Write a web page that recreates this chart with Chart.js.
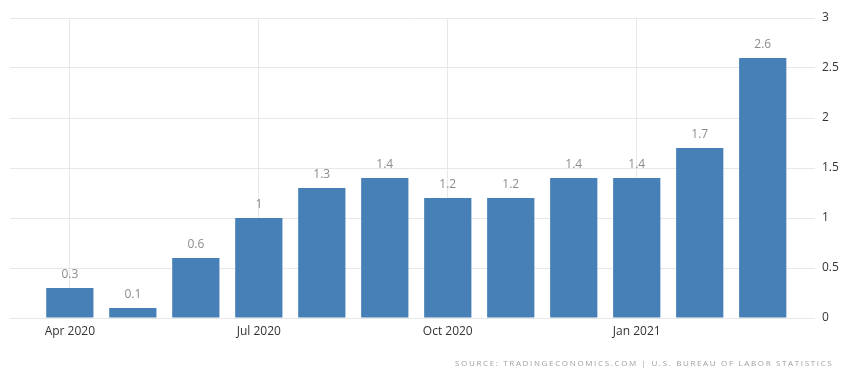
<!DOCTYPE html>
<html>
<head>
<meta charset="utf-8">
<script src="https://cdn.jsdelivr.net/npm/chart.js@4/dist/chart.umd.min.js"></script>
<style>
  html, body { margin: 0; padding: 0; background: #fff; }
  #wrap { position: relative; width: 843px; height: 370px; }
  #source {
    position: absolute; left: 455px; top: 357px;
    font-family: "Open Sans", sans-serif; font-size: 8px; letter-spacing: 1.65px;
    color: #a0a0a0; white-space: nowrap;
  }
</style>
</head>
<body>
<div id="wrap">
  <canvas id="myChart" width="843" height="370"></canvas>
  <div id="source">SOURCE: TRADINGECONOMICS.COM | U.S. BUREAU OF LABOR STATISTICS</div>
</div>
<script>
// monthly values
var months = ["Apr 2020", "May 2020", "Jun 2020", "Jul 2020", "Aug 2020", "Sep 2020",
              "Oct 2020", "Nov 2020", "Dec 2020", "Jan 2021", "Feb 2021", "Mar 2021"];
var values = [0.3, 0.1, 0.6, 1, 1.3, 1.4, 1.2, 1.2, 1.4, 1.4, 1.7, 2.6];
var tickMonths = [0, 3, 6, 9];
var yTicks = [0, 0.5, 1, 1.5, 2, 2.5, 3];

var barColor = "#4680b6";
var gridColor = "#e8e8e8";

// value labels above bars
var valueLabels = {
    id: "valueLabels",
    afterDatasetsDraw: function (chart) {
        var ctx = chart.ctx;
        var meta = chart.getDatasetMeta(0);
        ctx.save();
        ctx.font = "12px 'Open Sans', sans-serif";
        ctx.fillStyle = "#8c8c8c";
        ctx.textAlign = "center";
        ctx.textBaseline = "middle";
        meta.data.forEach(function (bar, i) {
            ctx.fillText(String(values[i]), bar.x, bar.y - 13);
        });
        ctx.restore();
    }
};

var ctx = document.getElementById("myChart").getContext("2d");
new Chart(ctx, {
    type: "bar",
    data: {
        datasets: [{
            data: values.map(function (v, i) { return { x: i, y: v }; }),
            backgroundColor: barColor,
            borderWidth: 0,
            barPercentage: 0.75,
            categoryPercentage: 1
        }]
    },
    options: {
        responsive: false,
        animation: false,
        layout: { padding: { left: 10, top: 18, right: 0, bottom: 0 } },
        plugins: { legend: { display: false }, tooltip: { enabled: false } },
        scales: {
            x: {
                type: "linear",
                min: -0.95,
                max: 11.83,
                offset: false,
                grid: { color: gridColor, drawTicks: false, offset: false },
                border: { display: false },
                afterBuildTicks: function (scale) {
                    scale.ticks = tickMonths.map(function (i) { return { value: i }; });
                },
                afterFit: function (scale) { scale.height = 52; },
                ticks: {
                    padding: 6,
                    color: "#333",
                    maxRotation: 0,
                    font: { family: "'Open Sans', sans-serif", size: 12 },
                    callback: function (v) { return months[v]; }
                }
            },
            y: {
                position: "right",
                min: 0,
                max: 3,
                grid: { color: gridColor, drawTicks: false },
                border: { display: false },
                afterBuildTicks: function (scale) {
                    scale.ticks = yTicks.map(function (v) { return { value: v }; });
                },
                afterFit: function (scale) { scale.width = 28; },
                ticks: {
                    padding: 7,
                    color: "#333",
                    font: { family: "'Open Sans', sans-serif", size: 12 },
                    callback: function (v) { return String(v); }
                }
            }
        }
    },
    plugins: [valueLabels]
});
</script>
</body>
</html>
